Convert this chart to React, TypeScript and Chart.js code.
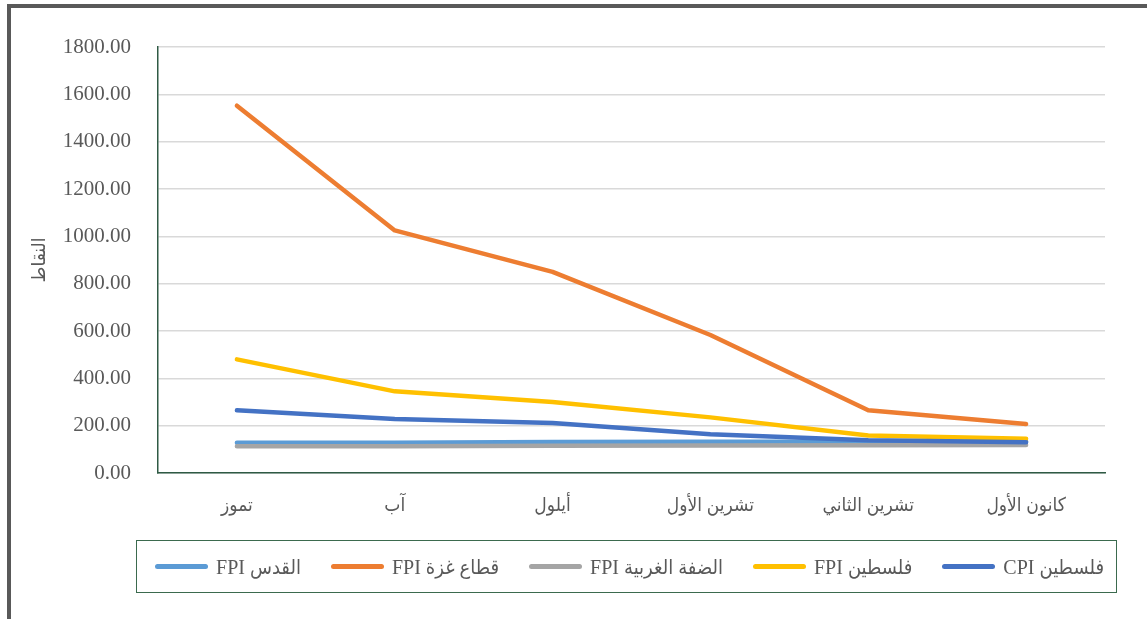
import React, { useEffect, useRef } from "react";
import { Chart, registerables } from "chart.js";

Chart.register(...registerables);

const categories = ["تموز", "آب", "أيلول", "تشرين الأول", "تشرين الثاني", "كانون الأول"];
const seriesNames = ["فلسطين CPI", "فلسطين FPI", "الضفة الغربية FPI", "قطاع غزة FPI", "القدس FPI"];
const seriesColors = ["#4472C4", "#FFC000", "#A5A5A5", "#ED7D31", "#5B9BD5"];
const palestineCPI = [265, 228, 211, 164, 138, 130];
const palestineFPI = [480, 345, 300, 235, 158, 145];
const westBankFPI = [113, 113, 115, 116, 117, 118];
const gazaFPI = [1552, 1025, 850, 583, 265, 207];
const jerusalemFPI = [128, 128, 131, 132, 132, 133];
const seriesValues = [palestineCPI, palestineFPI, westBankFPI, gazaFPI, jerusalemFPI];
const yTicksMin = 0;
const yTicksMax = 1800;
const yTicksStep = 200;
const yTitle = "النقاط";

const W = 1147;
const H = 619;
const textGray = "#595959";
const axisGreen = "#2f5a44";
const mixFont = "'Liberation Serif', 'DejaVu Sans Condensed', 'DejaVu Sans', serif";

export default function App() {
  const ref = useRef<HTMLCanvasElement | null>(null);

  useEffect(() => {
    if (!ref.current) return;
    const chart = new Chart(ref.current, {
      type: "line",
      data: {
        labels: categories,
        datasets: seriesNames.map((name, i) => ({
          label: name,
          data: seriesValues[i],
          borderColor: seriesColors[i],
          backgroundColor: seriesColors[i],
          borderWidth: 4.5,
          borderCapStyle: "round" as const,
          borderJoinStyle: "round" as const,
          pointRadius: 0,
          pointHoverRadius: 0,
          tension: 0,
          fill: false,
        })),
      },
      options: {
        responsive: false,
        animation: false,
        layout: { padding: { left: 29, right: 42, top: 47, bottom: 0 } },
        plugins: {
          legend: { display: false },
          tooltip: { enabled: false },
        },
        scales: {
          x: {
            offset: true,
            grid: { display: false, drawTicks: false },
            border: { display: true, color: axisGreen, width: 1.5 },
            ticks: {
              color: textGray,
              padding: 22,
              font: { family: mixFont, size: 19 },
              maxRotation: 0,
            },
            afterFit: (scale: any) => {
              scale.height = 146;
            },
          },
          y: {
            min: yTicksMin,
            max: yTicksMax,
            grid: { color: "#d9d9d9", lineWidth: 1.5, drawTicks: false },
            border: { display: true, color: axisGreen, width: 1.5 },
            ticks: {
              stepSize: yTicksStep,
              color: textGray,
              padding: 27,
              font: { family: "'Liberation Serif', serif", size: 21 },
              callback: (v: any) => Number(v).toFixed(2),
            },
            title: {
              display: true,
              text: yTitle,
              color: textGray,
              font: { family: mixFont, size: 19 },
              padding: { top: 0, bottom: 0 },
            },
            afterFit: (scale: any) => {
              scale.width = 129;
            },
          },
        },
      },
    });
    return () => chart.destroy();
  }, []);

  return (
    <div style={{ position: "fixed", left: 0, top: 0, width: W, height: H, background: "#fff", overflow: "hidden" }}>
      <canvas ref={ref} width={W} height={H} style={{ position: "absolute", left: 0, top: 0, width: W, height: H }} />
      <div style={{ position: "absolute", left: 7, top: 4, width: 4, height: H, background: "#595959" }} />
      <div style={{ position: "absolute", left: 7, top: 4, width: W, height: 4, background: "#595959" }} />
      <div
        style={{
          position: "absolute",
          left: 136,
          top: 540,
          width: 1117 - 136,
          height: 593 - 540,
          boxSizing: "border-box",
          border: "1.5px solid #3b6a4e",
          display: "flex",
          flexDirection: "row",
          direction: "rtl",
          alignItems: "center",
          justifyContent: "space-between",
          paddingRight: 12,
          paddingLeft: 18,
        }}
      >
        {seriesNames.map((name, i) => (
          <div key={name} style={{ display: "flex", alignItems: "center", gap: 8 }}>
            <span style={{ fontFamily: mixFont, fontSize: 20, color: textGray, whiteSpace: "nowrap" }}>{name}</span>
            <span style={{ display: "inline-block", width: 53, height: 5, borderRadius: 3, background: seriesColors[i] }} />
          </div>
        ))}
      </div>
    </div>
  );
}
